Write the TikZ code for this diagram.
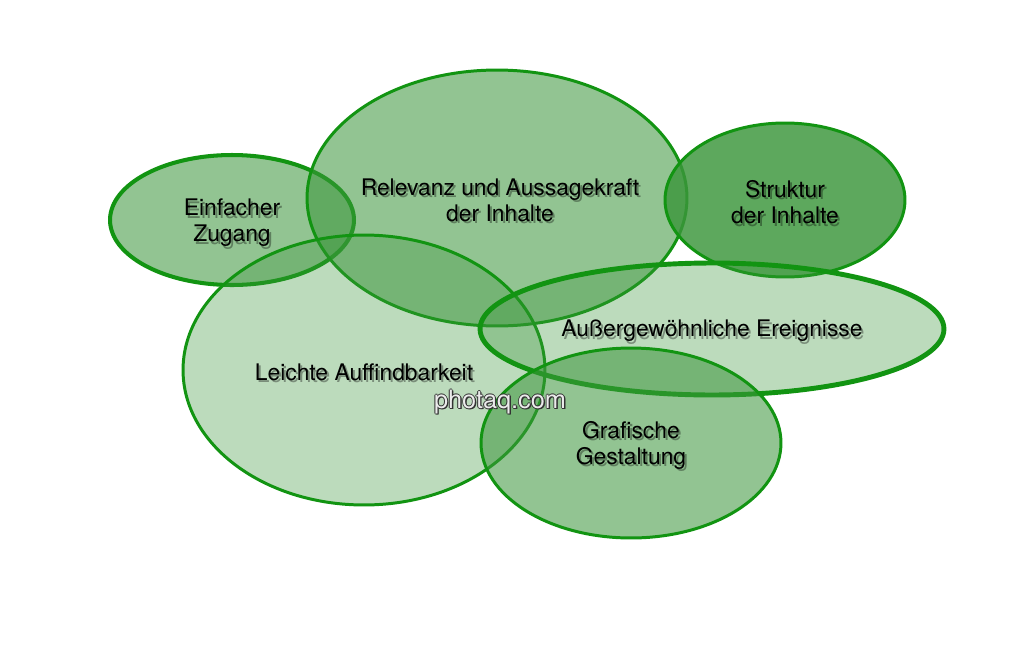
\documentclass[tikz,border=0pt]{standalone}
\usepackage{fontspec}
\setmainfont{TeX Gyre Heros}
\usetikzlibrary{shapes.geometric}
\definecolor{blobgreen}{RGB}{60,150,60}
\definecolor{rimgreen}{RGB}{18,148,18}

\begin{document}
\begin{tikzpicture}[
    x=0.02cm, y=-0.02cm,
    blob/.style={ellipse, draw=rimgreen, line width=1.7pt, fill=blobgreen, inner sep=0pt},
    pale/.style={fill opacity=0.34},
    mid/.style={fill opacity=0.56},
    deep/.style={fill opacity=0.83},
    txt/.style={align=center, font=\fontsize{13}{14.8}\selectfont, text=black},
    shade/.style={txt, text=black, text opacity=0.35, xshift=1.2pt, yshift=-1.5pt},
    wmark/.style={font=\fontsize{14.4}{16}\selectfont}
]
\useasboundingbox (0,0) rectangle (1024,646);

% Ellipses
\node[blob, mid, line width=2.3pt, minimum width=4.88cm, minimum height=2.6cm] (zugang) at (232,220) {};
\node[blob, mid, minimum width=7.6cm, minimum height=5.12cm] (relevanz) at (497,198) {};
\node[blob, deep, minimum width=4.8cm, minimum height=3.08cm] (struktur) at (785,200) {};
\node[blob, pale, minimum width=7.24cm, minimum height=5.4cm] (auffind) at (364,370) {};
\node[blob, pale, line width=2.8pt, minimum width=9.28cm, minimum height=2.64cm] (ereignis) at (712,329) {};
\node[blob, mid, minimum width=6.0cm, minimum height=3.8cm] (grafik) at (631,443) {};

% Labels (shadow first)
\node[shade] (zugangS) at (232,223) {Einfacher\\Zugang};
\node[txt] (zugangT) at (232,223) {Einfacher\\Zugang};
\node[shade] (relevanzS) at (500,200) {Relevanz und Aussagekraft\\der Inhalte};
\node[txt] (relevanzT) at (500,200) {Relevanz und Aussagekraft\\der Inhalte};
\node[shade] (strukturS) at (785,202) {Struktur\\der Inhalte};
\node[txt] (strukturT) at (785,202) {Struktur\\der Inhalte};
\node[shade] (ereignisS) at (712,331) {Außergewöhnliche Ereignisse};
\node[txt] (ereignisT) at (712,331) {Außergewöhnliche Ereignisse};
\node[shade] (auffindS) at (364,372) {Leichte Auffindbarkeit};
\node[txt] (auffindT) at (364,372) {Leichte Auffindbarkeit};
\node[shade] (grafikS) at (631,445) {Grafische\\Gestaltung};
\node[txt] (grafikT) at (631,445) {Grafische\\Gestaltung};

% Watermark
\foreach \dx/\dy in {-0.5/0, 0.5/0, 0/-0.5, 0/0.5, 0.8/-0.8}
  \node[wmark, text=black!80] at ([xshift=\dx pt, yshift=\dy pt]500,402) {photaq.com};
\node[wmark, text=black!8] (photaq) at (500,402) {photaq.com};
\end{tikzpicture}
\end{document}
